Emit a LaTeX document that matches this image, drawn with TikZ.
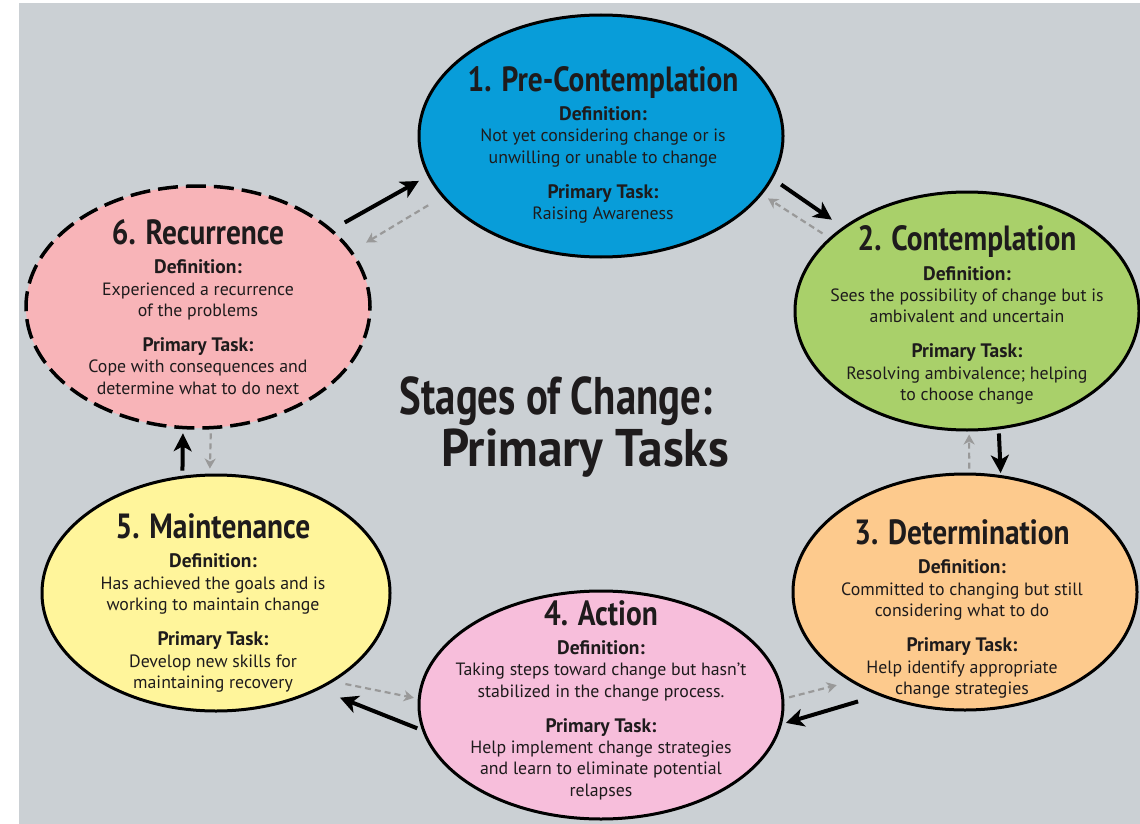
\documentclass[tikz,border=0pt]{standalone}
\usepackage{fontspec}
\setmainfont{PT Sans}
\newfontfamily\condfont[FakeStretch=0.84]{PT Sans}
\newfontfamily\condfontA[FakeStretch=0.77]{PT Sans}
\newfontfamily\condfontB[FakeStretch=0.93]{PT Sans}
\usetikzlibrary{shapes.geometric,arrows.meta}
\definecolor{bg}{HTML}{CBD0D4}
\definecolor{cblue}{HTML}{089DD9}
\definecolor{cgreen}{HTML}{A9D06A}
\definecolor{corange}{HTML}{FDCA8D}
\definecolor{cpink}{HTML}{F7BEDB}
\definecolor{cyellow}{HTML}{FFF59B}
\definecolor{csalmon}{HTML}{F8B4B8}
\definecolor{agrey}{HTML}{999999}
\definecolor{txt}{HTML}{1E1B1C}
\newcommand\stitle[1]{{\condfont\bfseries\fontsize{35}{36}\selectfont #1}}
\newcommand\slabel[1]{{\bfseries\fontsize{19.5}{21}\selectfont #1}}
\begin{document}
\begin{tikzpicture}[x=1pt,y=-1pt,
  stage/.style={ellipse, draw=black, line width=3pt, inner sep=0pt},
  stagetext/.style={align=center, font=\fontsize{17.8}{21.3}\selectfont, text=txt, inner sep=0pt},
  blk/.style={line width=4pt, draw=black, -{Stealth[length=18pt,width=18pt,inset=5pt]}},
  gry/.style={line width=2.2pt, draw=agrey, dash pattern=on 6pt off 4pt, -{Stealth[length=10pt,width=11pt,inset=3pt]}}]
\useasboundingbox (0,0) rectangle (1140,824);
\fill[bg] (19,3) rectangle (1140,824);

\node[stage, fill=cblue, minimum width=364pt, minimum height=242pt] (s1) at (601,136) {};
\node[stage, fill=cgreen, minimum width=344pt, minimum height=238pt] (s2) at (967,311) {};
\node[stage, fill=corange, minimum width=344pt, minimum height=236pt] (s3) at (965,592) {};
\node[stage, fill=cpink, minimum width=364pt, minimum height=228pt] (s4) at (601,705) {};
\node[stage, fill=cyellow, minimum width=348pt, minimum height=236pt] (s5) at (216,593) {};
\node[stage, fill=csalmon, line width=3.5pt, dash pattern=on 20pt off 8pt, minimum width=344pt, minimum height=242pt] (s6) at (198,307) {};

\node[stagetext] (t1) at (603,145) {\stitle{1. Pre-Contemplation}\\[8pt]\slabel{Definition:}\\Not yet considering change or is\\unwilling or unable to change\\[14pt]\slabel{Primary Task:}\\Raising Awareness};
\node[stagetext] (t2) at (967,315) {\stitle{2. Contemplation}\\[8pt]\slabel{Definition:}\\Sees the possibility of change but is\\ambivalent and uncertain\\[14pt]\slabel{Primary Task:}\\Resolving ambivalence; helping\\to choose change};
\node[stagetext] (t3) at (962,609) {\stitle{3. Determination}\\[8pt]\slabel{Definition:}\\Committed to changing but still\\considering what to do\\[14pt]\slabel{Primary Task:}\\Help identify appropriate\\change strategies};
\node[stagetext] (t4) at (601,700) {\stitle{4. Action}\\[8pt]\slabel{Definition:}\\Taking steps toward change but hasn’t\\stabilized in the change process.\\[14pt]\slabel{Primary Task:}\\Help implement change strategies\\and learn to eliminate potential\\relapses};
\node[stagetext] (t5) at (213,603) {\stitle{5. Maintenance}\\[8pt]\slabel{Definition:}\\Has achieved the goals and is\\working to maintain change\\[14pt]\slabel{Primary Task:}\\Develop new skills for\\maintaining recovery};
\node[stagetext] (t6) at (198,307) {\stitle{6. Recurrence}\\[8pt]\slabel{Definition:}\\Experienced a recurrence\\of the problems\\[14pt]\slabel{Primary Task:}\\Cope with consequences and\\determine what to do next};

\node[align=center, text=txt, inner sep=0pt, font=\bfseries\fontsize{53}{52}\selectfont] (center) at (556,427) {{\condfontA Stages of Change:}\\\hspace*{58pt}{\condfontB Primary Tasks}};

% black forward arrows
\draw[blk, shorten <=14pt, shorten >=10pt] (s6.30) -- (s1.193);
\draw[blk, shorten <=10pt, shorten >=13pt] (s1.346) -- (s2.146);
\draw[blk, shorten <=4pt, shorten >=2pt] (s2.285) -- (s3.73);
\draw[blk, shorten <=21pt, shorten >=4pt] (s3.230) -- (s4.354);
\draw[blk, shorten <=5pt, shorten >=22pt] (s4.188) -- (s5.317);
\draw[blk, shorten <=5pt, shorten >=4pt] (s5.106) -- (s6.263);
% grey dashed backward arrows
\draw[gry, shorten <=16pt, shorten >=16pt] (s1.201) -- (s6.20);
\draw[gry, shorten <=8pt, shorten >=7pt] (s2.152) -- (s1.340);
\draw[gry, shorten <=4pt, shorten >=3pt] (s3.88) -- (s2.271);
\draw[gry, shorten <=5pt, shorten >=14pt] (s4.2) -- (s3.218);
\draw[gry, shorten <=12pt, shorten >=4pt] (s5.323) -- (s4.178);
\draw[gry, shorten <=4pt, shorten >=5pt] (s6.276) -- (s5.93);
\end{tikzpicture}
\end{document}
